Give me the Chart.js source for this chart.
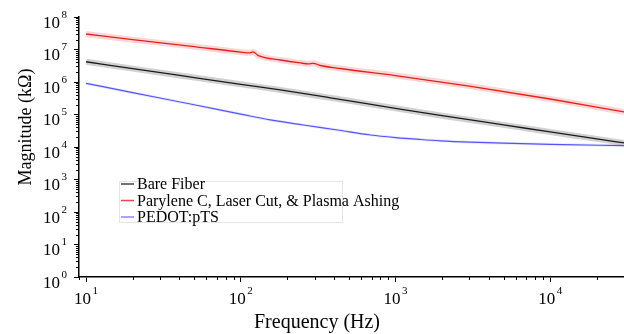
<!DOCTYPE html>
<html>
<head>
<meta charset="utf-8">
<script src="https://cdn.jsdelivr.net/npm/chart.js@4/dist/chart.umd.min.js"></script>
<style>
  html, body { margin: 0; padding: 0; background: #fff; }
  #wrap { width: 624px; height: 334px; position: relative; }
</style>
</head>
<body>
<div id="wrap"><canvas id="chart"></canvas></div>
<script>
// ===== IMPEDANCE MAGNITUDE vs FREQUENCY =====

// Bare fiber
const bareFreq = [10, 20, 50, 100, 180, 380, 1000, 2000, 5000, 10000, 20000, 30000];
const bareMag  = [4.2e6, 2.58e6, 1.37e6, 8.5e5, 5.7e5, 3.27e5, 1.55e5, 9.2e4, 4.8e4, 2.9e4, 1.78e4, 1.33e4];

// Parylene C, laser cut, plasma ashing
const paryFreq = [10, 20, 50, 100, 115, 120, 130, 180, 243, 273, 294, 327, 440, 1000, 3000, 10000, 30000];
const paryMag  = [3.0e7, 2.0e7, 1.23e7, 8.3e6, 7.9e6, 8.4e6, 6.5e6, 4.75e6, 3.85e6, 3.63e6, 3.75e6,
                  3.22e6, 2.6e6, 1.58e6, 7.5e5, 3.0e5, 1.2e5];

// PEDOT:pTS
const pedotFreq = [10, 20, 50, 100, 155, 254, 422, 689, 1000, 1450, 1950, 3055, 5000, 10000, 30000];
const pedotMag  = [9.1e5, 4.7e5, 2.0e5, 1.03e5, 6.8e4, 4.75e4, 3.33e4, 2.34e4, 1.95e4, 1.70e4,
                   1.55e4, 1.41e4, 1.31e4, 1.21e4, 1.1e4];

const seriesNames = ['Bare Fiber', 'Parylene C, Laser Cut, & Plasma Ashing', 'PEDOT:pTS'];

const xMajorTicks = [10, 100, 1000, 10000];
const yMajorTicks = [1, 10, 100, 1000, 1e4, 1e5, 1e6, 1e7, 1e8];

const SERIF = "'Liberation Serif', 'Times New Roman', serif";

const colors = {
  black: '#1a1a1a',
  blackBand: 'rgba(0,0,0,0.18)',
  red: '#e3211c',
  redBand: 'rgba(227,33,28,0.18)',
  blue: '#5252ff',
  blueBand: 'rgba(120,120,200,0.15)',
  legBlack: '#444',
  legRed: '#e84a4a',
  legBlue: '#8a8aff'
};

const toXY = (fs, vals) => fs.map((f, i) => ({ x: f, y: vals[i] }));

function lineSet(label, fs, vals, color, width, order) {
  return {
    label, data: toXY(fs, vals),
    borderColor: color, backgroundColor: color,
    borderWidth: width, pointRadius: 0,
    cubicInterpolationMode: 'monotone', fill: false, order
  };
}

const datasets = [
  lineSet(seriesNames[0], bareFreq, bareMag, colors.black, 1.3, 1),
  lineSet(seriesNames[1], paryFreq, paryMag, colors.red, 1.3, 1),
  lineSet(seriesNames[2], pedotFreq, pedotMag, colors.blue, 1.2, 1),
  lineSet('band0', bareFreq, bareMag, colors.blackBand, 6, 2),
  lineSet('band1', paryFreq, paryMag, colors.redBand, 6, 2),
  lineSet('band2', pedotFreq, pedotMag, colors.blueBand, 3, 2)
];

function line(ctx, x1, y1, x2, y2) {
  ctx.beginPath(); ctx.moveTo(x1, y1); ctx.lineTo(x2, y2); ctx.stroke();
}

// "10" with a raised exponent; anchor is the right edge (align 'right') or centre
function powLabel(ctx, exp, x, yBase, align) {
  ctx.font = '17px ' + SERIF;
  const wBase = ctx.measureText('10').width;
  ctx.font = '11px ' + SERIF;
  const wExp = ctx.measureText(String(exp)).width;
  const total = wBase + 1.5 + wExp;
  const left = align === 'right' ? x - total : x - total / 2;
  ctx.textAlign = 'left';
  ctx.textBaseline = 'alphabetic';
  ctx.font = '17px ' + SERIF;
  ctx.fillText('10', left, yBase);
  ctx.font = '11px ' + SERIF;
  ctx.fillText(String(exp), left + wBase + 1.5, yBase - 10);
}

const decor = {
  id: 'decor',
  afterDraw(chart) {
    const ctx = chart.ctx;
    const xs = chart.scales.x, ys = chart.scales.y;
    const a = chart.chartArea;
    ctx.save();
    ctx.strokeStyle = '#000';
    ctx.fillStyle = '#000';
    ctx.lineWidth = 1;

    // minor ticks
    for (let k = 0; k < 8; k++) {
      for (let m = 2; m <= 9; m++) {
        const v = m * Math.pow(10, k);
        if (v < ys.max) {
          const py = Math.round(ys.getPixelForValue(v)) + 0.5;
          line(ctx, a.left - 3, py, a.left, py);
        }
        if (v >= xs.min && v <= xs.max) {
          const px = Math.round(xs.getPixelForValue(v)) + 0.5;
          line(ctx, px, a.bottom, px, a.bottom + 3);
        }
      }
    }

    // tick labels
    ys.ticks.forEach(t => {
      const py = ys.getPixelForValue(t.value);
      powLabel(ctx, Math.round(Math.log10(t.value)), a.left - 12, py + 10.5, 'right');
    });
    xs.ticks.forEach(t => {
      const px = xs.getPixelForValue(t.value);
      powLabel(ctx, Math.round(Math.log10(t.value)), px, a.bottom + 27, 'center');
    });

    // axis titles
    ctx.font = '20px ' + SERIF;
    ctx.textAlign = 'center';
    ctx.textBaseline = 'alphabetic';
    ctx.fillText('Frequency (Hz)', 317, 328);
    ctx.save();
    ctx.translate(31, 127);
    ctx.rotate(-Math.PI / 2);
    ctx.font = '18px ' + SERIF;
    ctx.fillText('Magnitude (k\u03A9)', 0, 0);
    ctx.restore();

    // legend
    ctx.strokeStyle = '#e4e4e4';
    ctx.strokeRect(119.5, 181.5, 223, 41);
    const legColors = [colors.legBlack, colors.legRed, colors.legBlue];
    ctx.font = '16px ' + SERIF;
    ctx.textAlign = 'left';
    ctx.textBaseline = 'middle';
    seriesNames.forEach((name, i) => {
      const y = 184 + i * 16.5;
      ctx.strokeStyle = legColors[i];
      ctx.lineWidth = 1.5;
      line(ctx, 121, y, 134, y);
      ctx.fillStyle = '#000';
      ctx.fillText(name, 137, y + 1);
    });
    ctx.restore();
  }
};

new Chart(document.getElementById('chart'), {
  type: 'line',
  data: { datasets },
  options: {
    responsive: true,
    maintainAspectRatio: false,
    animation: false,
    layout: { padding: { top: 17, right: 0, left: 0, bottom: 0 } },
    plugins: { legend: { display: false }, tooltip: { enabled: false } },
    scales: {
      x: {
        type: 'logarithmic', min: 9, max: 30000,
        afterBuildTicks: s => { s.ticks = xMajorTicks.map(v => ({ value: v })); },
        afterFit: s => { s.height = 57; },
        ticks: { display: false },
        grid: { drawOnChartArea: false, drawTicks: true, tickLength: 5, color: '#000', lineWidth: 1 },
        border: { display: true, color: '#000', width: 1.5 }
      },
      y: {
        type: 'logarithmic', min: 1, max: 1e8,
        afterBuildTicks: s => { s.ticks = yMajorTicks.map(v => ({ value: v })); },
        afterFit: s => { s.width = 79; },
        ticks: { display: false },
        grid: { drawOnChartArea: false, drawTicks: true, tickLength: 5, color: '#000', lineWidth: 1 },
        border: { display: true, color: '#000', width: 1.5 }
      }
    }
  },
  plugins: [decor]
});
</script>
</body>
</html>
